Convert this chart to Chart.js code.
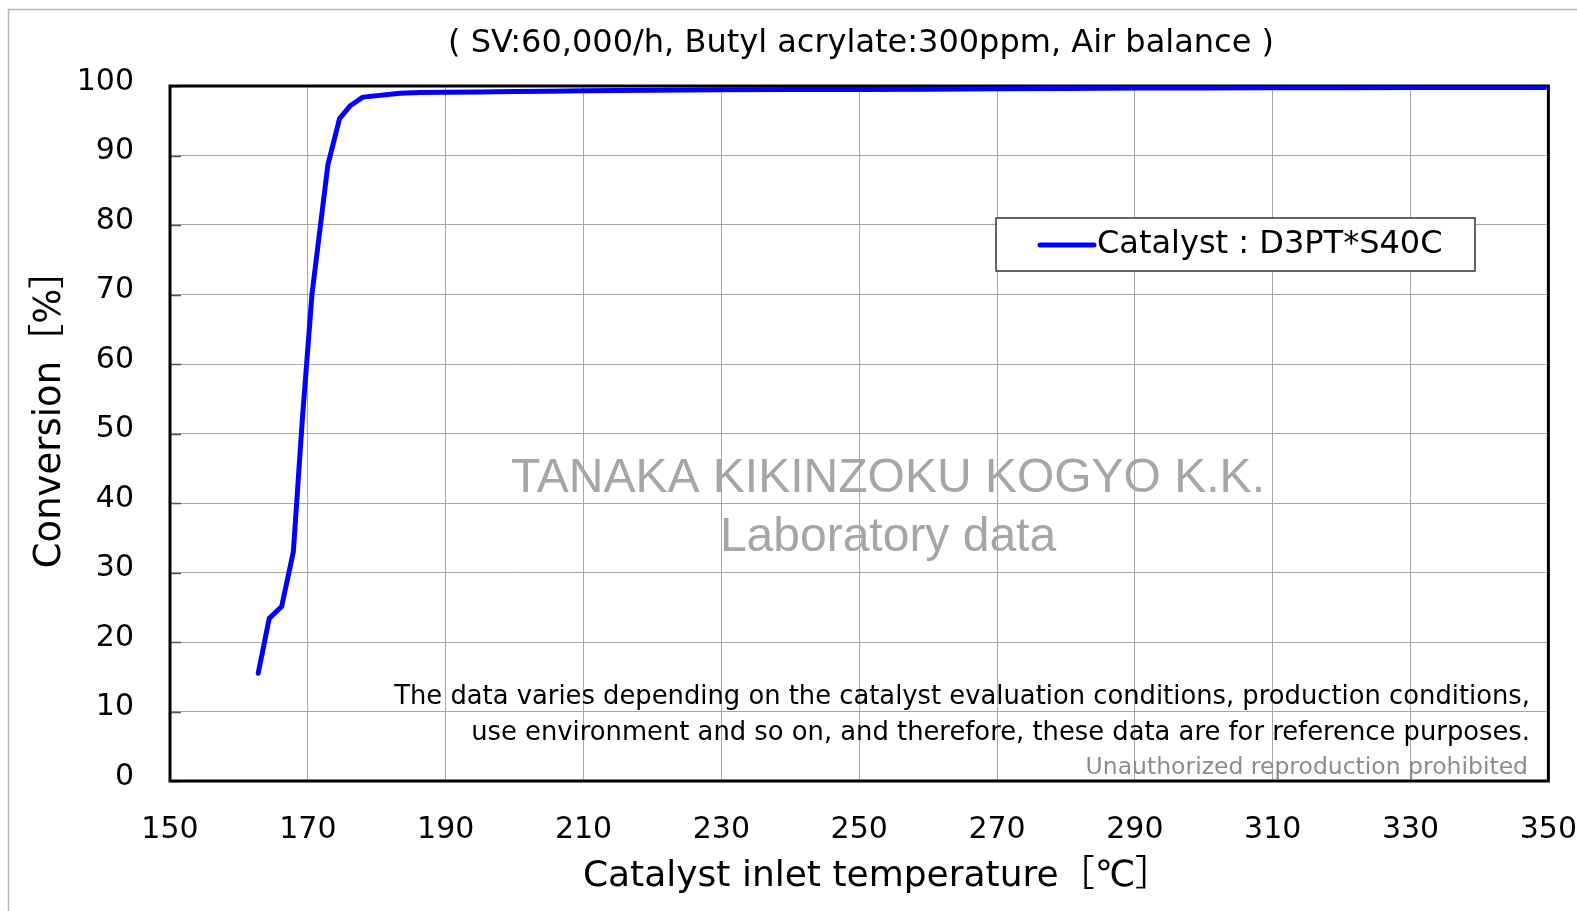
<!DOCTYPE html>
<html>
<head>
<meta charset="utf-8">
<script src="https://cdn.jsdelivr.net/npm/chart.js@4/dist/chart.umd.min.js"></script>
<style>
  body { margin: 0; background: #fff; }
  canvas { display: block; }
</style>
</head>
<body>
<canvas id="myChart" width="1577" height="911"></canvas>
<script>
// values
var temps = [162.8, 164.4, 166.2, 167.9, 169.2, 170.6, 172.9, 174.6, 176.2, 178.0, 183.4, 186.3,
  190, 195, 200, 205, 210, 220, 230, 240, 250, 260, 270, 280, 290, 300, 310, 320, 330, 340, 349.5];
var conversion = [15.5, 23.4, 25.1, 33.0, 52.0, 70.0, 88.6, 95.3, 97.2, 98.4, 98.95, 99.05,
  99.1, 99.15, 99.2, 99.25, 99.3, 99.4, 99.45, 99.5, 99.5, 99.55, 99.6, 99.65, 99.7, 99.7, 99.75, 99.75, 99.8, 99.8, 99.8];
var xTicks = [150, 170, 190, 210, 230, 250, 270, 290, 310, 330, 350];
var yTicks = [0, 10, 20, 30, 40, 50, 60, 70, 80, 90, 100];

var seriesLabel = 'Catalyst : D3PT*S40C';
var titleText = '( SV:60,000/h, Butyl acrylate:300ppm, Air balance )';
var yTitle = 'Conversion［%］';
var xTitle = 'Catalyst inlet temperature［℃］';
var noteLines = [
  'The data varies depending on the catalyst evaluation conditions, production conditions,',
  'use environment and so on, and therefore, these data are for reference purposes.'
];
var noteSmall = 'Unauthorized reproduction prohibited';
var watermark = ['TANAKA KIKINZOKU KOGYO K.K.', 'Laboratory data'];

var FONT = '"DejaVu Sans", "Noto Sans CJK JP", sans-serif';

var chartData = [];
for (var i = 0; i < temps.length; i++) {
  chartData.push({ x: temps[i], y: conversion[i] });
}

var extras = {
  id: 'extras',
  beforeDraw: function (chart) {
    var ctx = chart.ctx;
    ctx.save();
    // page frame
    ctx.strokeStyle = '#b4b4b4';
    ctx.lineWidth = 1.5;
    ctx.beginPath();
    ctx.moveTo(8.5, 911);
    ctx.lineTo(8.5, 9.5);
    ctx.lineTo(1577, 9.5);
    ctx.stroke();
    // watermark
    ctx.fillStyle = '#a6a6a6';
    ctx.textAlign = 'center';
    ctx.textBaseline = 'middle';
    ctx.font = '48px "Liberation Sans", Arial, sans-serif';
    ctx.fillText(watermark[0], 888, 479);
    ctx.fillText(watermark[1], 888, 538);
    ctx.restore();
  },
  beforeDatasetsDraw: function (chart) {
    var ctx = chart.ctx;
    var a = chart.chartArea;
    var ys = chart.scales.y;
    ctx.save();
    // inner tick marks on the y axis
    ctx.strokeStyle = '#555';
    ctx.lineWidth = 1.5;
    yTicks.forEach(function (v) {
      var py = Math.round(ys.getPixelForValue(v)) + 0.5;
      ctx.beginPath();
      ctx.moveTo(a.left, py);
      ctx.lineTo(a.left + 11, py);
      ctx.stroke();
    });
    // plot frame
    ctx.strokeStyle = '#000';
    ctx.lineWidth = 3;
    ctx.strokeRect(a.left, a.top, a.right - a.left, a.bottom - a.top);
    // notes
    ctx.textAlign = 'right';
    ctx.textBaseline = 'middle';
    ctx.fillStyle = '#000';
    ctx.font = '25.8px ' + FONT;
    ctx.fillText(noteLines[0], 1530, 697);
    ctx.fillText(noteLines[1], 1530, 733);
    ctx.fillStyle = '#8c8c8c';
    ctx.font = '23.5px ' + FONT;
    ctx.fillText(noteSmall, 1528, 768);
    ctx.restore();
  },
  afterDraw: function (chart) {
    var ctx = chart.ctx;
    ctx.save();
    ctx.fillStyle = '#000';
    ctx.textAlign = 'center';
    ctx.textBaseline = 'middle';
    // title
    ctx.font = '32px ' + FONT;
    ctx.fillText(titleText, 861, 44);
    // axis titles
    ctx.font = '36px ' + FONT;
    ctx.fillText(xTitle, 877, 877);
    ctx.save();
    ctx.translate(50, 410);
    ctx.rotate(-Math.PI / 2);
    ctx.font = '37px ' + FONT;
    ctx.fillText(yTitle, 0, 0);
    ctx.restore();
    // legend
    ctx.fillStyle = '#fff';
    ctx.fillRect(996, 218, 479, 53);
    ctx.strokeStyle = '#333';
    ctx.lineWidth = 1.5;
    ctx.strokeRect(996, 218, 479, 53);
    var ds = chart.data.datasets[0];
    ctx.strokeStyle = ds.borderColor;
    ctx.lineWidth = 5;
    ctx.lineCap = 'round';
    ctx.beginPath();
    ctx.moveTo(1040, 245);
    ctx.lineTo(1094, 245);
    ctx.stroke();
    ctx.fillStyle = '#000';
    ctx.textAlign = 'left';
    ctx.font = '32px ' + FONT;
    ctx.fillText(ds.label, 1097, 245);
    ctx.restore();
  }
};

var ctx = document.getElementById('myChart');
var chart = new Chart(ctx, {
  type: 'line',
  data: {
    datasets: [{
      label: seriesLabel,
      data: chartData,
      borderColor: '#0000ff',
      borderWidth: 5,
      pointRadius: 0,
      tension: 0,
      borderCapStyle: 'round',
      borderJoinStyle: 'round',
      fill: false
    }]
  },
  options: {
    responsive: false,
    animation: false,
    layout: { padding: { top: 86, right: 5, left: 0, bottom: 0 } },
    plugins: {
      legend: { display: false },
      tooltip: { enabled: false }
    },
    scales: {
      x: {
        type: 'linear',
        min: 150,
        max: 350,
        afterBuildTicks: function (scale) {
          scale.ticks = xTicks.map(function (v) { return { value: v }; });
        },
        afterFit: function (scale) { scale.height = 130; },
        grid: { color: '#a6a6a6', lineWidth: 1, drawTicks: true, tickLength: 31, tickColor: 'rgba(0,0,0,0)' },
        border: { display: false },
        ticks: { color: '#000', font: { family: FONT, size: 30 }, padding: 0, maxRotation: 0 }
      },
      y: {
        min: 0,
        max: 100,
        afterBuildTicks: function (scale) {
          scale.ticks = yTicks.map(function (v) { return { value: v }; });
        },
        afterFit: function (scale) { scale.width = 170; },
        grid: { color: '#a6a6a6', lineWidth: 1, drawTicks: false },
        border: { display: false },
        ticks: { color: '#000', font: { family: FONT, size: 30 }, padding: 36, labelOffset: -4 }
      }
    }
  },
  plugins: [extras]
});
</script>
</body>
</html>
